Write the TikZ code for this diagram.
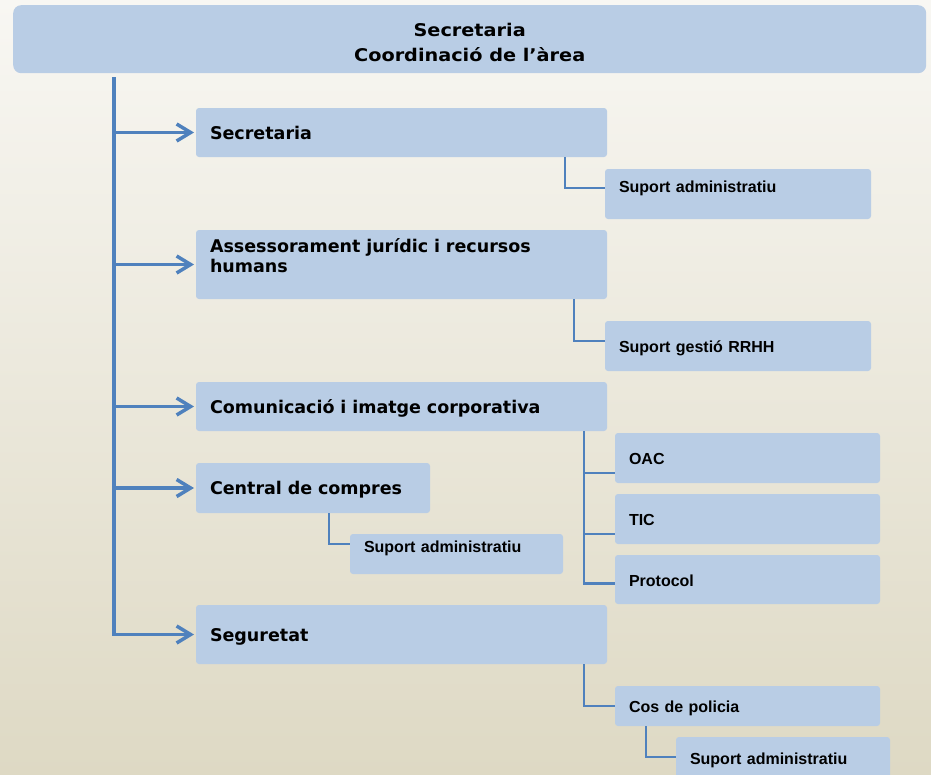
\documentclass[tikz,border=0pt]{standalone}
\usepackage{fontspec}
\setmainfont{DejaVu Sans}
\newfontfamily\subfont{Liberation Sans}
\newfontfamily\headfont[FakeStretch=1.1]{DejaVu Sans}
\usetikzlibrary{arrows.meta}
\definecolor{boxblue}{RGB}{185,205,229}
\definecolor{lineblue}{RGB}{79,129,189}
\definecolor{bgtop}{RGB}{248,247,243}
\definecolor{bgbottom}{RGB}{222,217,196}

\begin{document}
\begin{tikzpicture}[x=1pt,y=-1pt,
	box/.style={fill=boxblue,rounded corners=3pt,inner ysep=0pt,outer sep=0pt,anchor=north west,align=left},
	unit/.style={box,font=\bfseries\fontsize{17.5}{20}\selectfont,inner xsep=14pt,text height=15pt,text depth=2pt},
	sub/.style={box,font=\subfont\bfseries\fontsize{16}{19}\selectfont,inner xsep=14pt,text height=15pt,text depth=2pt},
	raised/.style={text depth=19pt},
	head/.style={fill=boxblue,rounded corners=8pt,anchor=north west,align=center,inner sep=0pt,
		font=\headfont\bfseries\fontsize{17.5}{25}\selectfont,text height=45pt,text depth=0pt},
	trunkline/.style={lineblue,line width=3.5pt},
	arrow/.style={lineblue,line width=3.5pt,-{Straight Barb[length=14pt,width=17pt]},shorten >=2pt},
	link/.style={lineblue,line width=2.5pt}]
	%\draw[gray,step=50] (0,0) grid (931,774);
	\clip (0,0) rectangle (931,774);
	\shade[top color=bgtop,bottom color=bgbottom] (0,0) rectangle (931,774);

	\node[head,minimum width=913pt,minimum height=68pt] (top) at (13,5) {Secretaria\\Coordinació de l’àrea};

	\node[unit,text width=383pt,minimum height=49pt] (sec) at (196,108) {Secretaria};
	\node[unit,text width=383pt,minimum height=69pt,text depth=40pt] (ajr) at (196,230) {Assessorament jurídic i recursos\\humans};
	\node[unit,text width=383pt,minimum height=49pt] (com) at (196,382) {Comunicació i imatge corporativa};
	\node[unit,text width=206pt,minimum height=50pt] (cc) at (196,463) {Central de compres};
	\node[unit,text width=383pt,minimum height=59pt] (seg) at (196,605) {Seguretat};

	\node[sub,raised,text width=238pt,minimum height=50pt] (sadm1) at (605,169) {Suport administratiu};
	\node[sub,text width=238pt,minimum height=50pt] (rrhh) at (605,321) {Suport gestió RRHH};
	\node[sub,text width=237pt,minimum height=50pt] (oac) at (615,433) {OAC};
	\node[sub,text width=237pt,minimum height=50pt] (tic) at (615,494) {TIC};
	\node[sub,text width=237pt,minimum height=49pt] (prot) at (615,555) {Protocol};
	\node[sub,raised,text width=185pt,minimum height=40pt] (sadm2) at (350,534) {Suport administratiu};
	\node[sub,text width=237pt,minimum height=40pt] (pol) at (615,686) {Cos de policia};
	\node[sub,raised,text width=186pt,minimum height=58pt] (sadm3) at (676,737) {Suport administratiu};

	% main line and arrows
	\coordinate (trunk) at (114,77);
	\draw[trunkline] (trunk) -- ([yshift=-1.75pt]trunk |- seg.west);
	\foreach \n in {sec,ajr,com,cc,seg}
		\draw[arrow] (trunk |- \n.west) -- (\n.west);

	% sub units
	\draw[link] ([xshift=-42pt]sec.south east) |- ([yshift=6pt]sadm1.west);
	\draw[link] ([xshift=-33pt]ajr.south east) |- ([yshift=5pt]rrhh.west);
	\coordinate (comfoot) at ([xshift=-23pt]com.south east);
	\draw[link] (comfoot) |- ([yshift=-4pt]prot.west);
	\draw[link] (comfoot |- oac.west) ++(0,15) -- ([yshift=-15pt]oac.west);
	\draw[link] (comfoot |- tic.west) ++(0,15) -- ([yshift=-15pt]tic.west);
	\draw[link] ([xshift=-101pt]cc.south east) |- ([yshift=10pt]sadm2.west);
	\draw[link] ([xshift=-23pt]seg.south east) |- (pol.west);
	\draw[link] ([xshift=31pt]pol.south west) |- ([yshift=9pt]sadm3.west);
\end{tikzpicture}
\end{document}
